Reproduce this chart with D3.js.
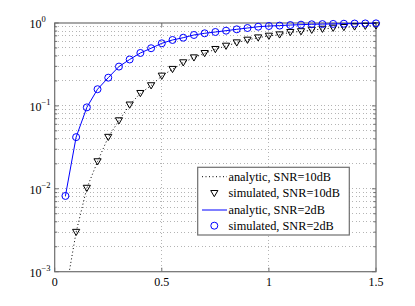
<!DOCTYPE html>
<html><head><meta charset="utf-8">
<script src="https://cdn.jsdelivr.net/npm/d3@7"></script>
<style>body{margin:0;background:#fff}svg{display:block}text{font-family:"Liberation Serif","Times New Roman",serif;fill:#000}</style>
</head><body><svg id="c" width="415" height="306"></svg>
<script>
const xs = [0.05,0.1,0.15,0.2,0.25,0.3,0.35,0.4,0.45,0.5,0.55,0.6,0.65,0.7,0.75,0.8,0.85,0.9,0.95,1.0,1.05,1.1,1.15,1.2,1.25,1.3,1.35,1.4,1.45,1.5];
const analytic10 = [0.00054,0.0030,0.0102,0.0213,0.042,0.0665,0.103,0.142,0.176,0.23,0.277,0.333,0.382,0.431,0.482,0.528,0.579,0.624,0.665,0.697,0.723,0.773,0.79,0.823,0.846,0.87,0.887,0.902,0.92,0.928];
const sim10 = [null,0.0030,0.0102,0.0213,0.042,0.0665,0.103,0.142,0.176,0.23,0.277,0.333,0.382,0.431,0.482,0.528,0.579,0.624,0.665,0.697,0.723,0.773,0.79,0.823,0.846,0.87,0.887,0.902,0.92,0.928];
const analytic2 = [0.0082,0.042,0.096,0.159,0.219,0.298,0.363,0.435,0.496,0.569,0.624,0.665,0.717,0.751,0.779,0.808,0.839,0.87,0.902,0.92,0.93,0.945,0.955,0.965,0.97,0.975,0.98,0.985,0.988,0.99];
const sim2 = analytic2.slice();
const xTicks = [0,0.5,1,1.5];
const yTicks = [1e-3,1e-2,1e-1,1];
const yExp = ["−3","−2","−1","0"];
const legendLabels = ["analytic, SNR=10dB","simulated, SNR=10dB","analytic, SNR=2dB","simulated, SNR=2dB"];

const svg = d3.select("#c");
const L=54.7,R=376,T=23,B=271.7;
const x = d3.scaleLinear().domain([0,1.5]).range([L,R]);
const y = d3.scaleLog().domain([1e-3,1]).range([B,T]);
const axisCol="#6e6e6e", gridCol="#b4b4b4";

// grid
const minor=[];
for(let e=-3;e<0;e++) for(let k=1;k<10;k++) minor.push(k*Math.pow(10,e));
const g = svg.append("g");
minor.filter(v=>v>1e-3).forEach(v=>{
  g.append("line").attr("x1",L).attr("x2",R).attr("y1",y(v)).attr("y2",y(v))
   .attr("stroke",gridCol).attr("stroke-width",1).attr("stroke-dasharray","1,2.5").attr("shape-rendering","crispEdges");
});
xTicks.filter(v=>v>0&&v<1.5).forEach(v=>{
  g.append("line").attr("x1",x(v)).attr("x2",x(v)).attr("y1",T).attr("y2",B)
   .attr("stroke",gridCol).attr("stroke-width",1).attr("stroke-dasharray","1,2.5").attr("shape-rendering","crispEdges");
});

// box
svg.append("rect").attr("x",L).attr("y",T).attr("width",R-L).attr("height",B-T)
  .attr("fill","none").attr("stroke",axisCol).attr("stroke-width",1.2);

// ticks
xTicks.forEach(v=>{
  svg.append("line").attr("x1",x(v)).attr("x2",x(v)).attr("y1",B).attr("y2",B-4).attr("stroke",axisCol);
  svg.append("line").attr("x1",x(v)).attr("x2",x(v)).attr("y1",T).attr("y2",T+4).attr("stroke",axisCol);
  svg.append("text").attr("x",x(v)).attr("y",286).attr("text-anchor","middle").attr("font-size",12).text(d3.format("~g")(v));
});
minor.concat([1]).forEach(v=>{
  const len = (Math.abs(Math.log10(v)-Math.round(Math.log10(v)))<1e-9)?4:2.5;
  svg.append("line").attr("x1",L).attr("x2",L+len).attr("y1",y(v)).attr("y2",y(v)).attr("stroke",axisCol);
  svg.append("line").attr("x1",R).attr("x2",R-len).attr("y1",y(v)).attr("y2",y(v)).attr("stroke",axisCol);
});
yTicks.forEach((v,i)=>{
  const t = svg.append("text").attr("x",29.5).attr("y",y(v)+5).attr("font-size",12);
  t.append("tspan").text("10");
  t.append("tspan").attr("dy",-6).attr("font-size",8.5).text(yExp[i]);
});

// clip
svg.append("clipPath").attr("id","cp").append("rect").attr("x",L).attr("y",T-6).attr("width",R-L+6).attr("height",B-T+6);
const plot = svg.append("g").attr("clip-path","url(#cp)");

const line = d3.line().defined(d=>d[1]!=null).x(d=>x(d[0])).y(d=>y(Math.max(d[1],1e-4)));
plot.append("path").datum(xs.map((v,i)=>[v,analytic10[i]])).attr("d",line)
  .attr("fill","none").attr("stroke","#000").attr("stroke-width",1).attr("stroke-dasharray","1,2.5");
plot.append("path").datum(xs.map((v,i)=>[v,analytic2[i]])).attr("d",line)
  .attr("fill","none").attr("stroke","#0000ff").attr("stroke-width",1);

const tri = (cx,cy)=>`M${cx-3.6},${cy-2.8}L${cx+3.6},${cy-2.8}L${cx},${cy+3.4}Z`;
xs.forEach((v,i)=>{
  if(sim10[i]!=null) plot.append("path").attr("d",tri(x(v),y(sim10[i]))).attr("fill","none").attr("stroke","#000").attr("stroke-width",1);
});
xs.forEach((v,i)=>{
  plot.append("circle").attr("cx",x(v)).attr("cy",y(sim2[i])).attr("r",3.5).attr("fill","none").attr("stroke","#0000ff").attr("stroke-width",1);
});

// legend
const lg = svg.append("g");
lg.append("rect").attr("x",197.7).attr("y",167.3).attr("width",151.6).attr("height",67.7).attr("fill","#fff").attr("stroke",axisCol).attr("stroke-width",1.2);
const rows=[176.7,193.3,210,225.7];
legendLabels.forEach((s,i)=>{
  const ry=rows[i];
  if(i===0) lg.append("line").attr("x1",202).attr("x2",227).attr("y1",ry).attr("y2",ry).attr("stroke","#000").attr("stroke-dasharray","1,2.5");
  if(i===1) lg.append("path").attr("d",tri(214.3,ry)).attr("fill","none").attr("stroke","#000");
  if(i===2) lg.append("line").attr("x1",202).attr("x2",227).attr("y1",ry).attr("y2",ry).attr("stroke","#0000ff");
  if(i===3) lg.append("circle").attr("cx",214.3).attr("cy",ry).attr("r",3.5).attr("fill","none").attr("stroke","#0000ff");
  lg.append("text").attr("x",228.5).attr("y",ry+4).attr("font-size",12.3).text(s);
});
</script></body></html>
